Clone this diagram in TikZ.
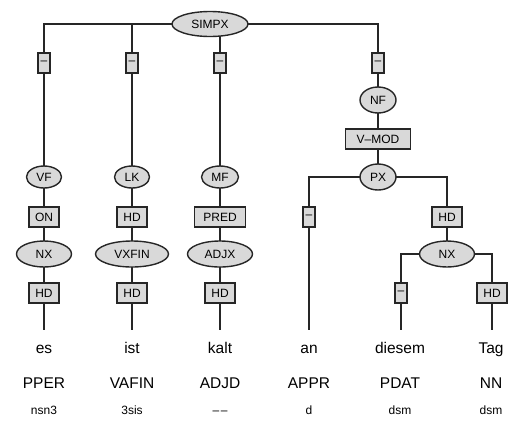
\documentclass[tikz,border=0pt]{standalone}
\usepackage{fontspec}
\setmainfont{Liberation Sans}
\usetikzlibrary{shapes.geometric}
\pgfdeclarelayer{bg}
\pgfsetlayers{bg,main}
\definecolor{linec}{HTML}{262626}
\definecolor{fillc}{HTML}{D9D9D9}
\begin{document}
\begin{tikzpicture}[x=1pt,y=-1pt,
  cat/.style={ellipse, draw=linec, fill=fillc, line width=1.4pt, inner sep=0pt,
    minimum height=25pt, font=\fontsize{12}{12}\selectfont},
  fn/.style={rectangle, draw=linec, fill=fillc, line width=1.4pt, inner sep=0pt,
    minimum height=20pt, minimum width=30pt, font=\fontsize{12}{12}\selectfont},
  dash box/.style={fn, minimum width=12pt},
  conn/.style={draw=linec, line width=1.4pt},
  word/.style={anchor=base, inner sep=0pt, font=\fontsize{15.5}{15.5}\selectfont},
  tagw/.style={anchor=base, inner sep=0pt, font=\fontsize{15.5}{15.5}\selectfont},
  morph/.style={anchor=base, inner sep=0pt, font=\fontsize{12}{12}\selectfont}]
\useasboundingbox (0,0) rectangle (511,421);
% categories
\node[cat, minimum width=76pt] (simpx) at (210,24) {SIMPX};
\node[cat, minimum width=36pt, minimum height=26pt] (nf) at (378,100) {NF};
\node[cat, minimum width=35pt, minimum height=22pt] (vf) at (44,177) {VF};
\node[cat, minimum width=35pt, minimum height=22pt] (lk) at (132,177) {LK};
\node[cat, minimum width=37pt, minimum height=22pt] (mf) at (220,177) {MF};
\node[cat, minimum width=36pt, minimum height=26pt] (px) at (378,177) {PX};
\node[cat, minimum width=55pt, minimum height=26pt] (nxa) at (44,254) {NX};
\node[cat, minimum width=73pt, minimum height=26pt] (vxfin) at (132,254) {VXFIN};
\node[cat, minimum width=65pt, minimum height=26pt] (adjx) at (220,254) {ADJX};
\node[cat, minimum width=55pt, minimum height=26pt] (nxb) at (447,254) {NX};
% function boxes
\node[dash box] (da) at (44,63) {–};
\node[dash box] (db) at (132,63) {–};
\node[dash box] (dc) at (220,63) {–};
\node[dash box] (dd) at (378,63) {–};
\node[fn, minimum width=65pt] (vmod) at (378,139) {V–MOD};
\node[fn] (on) at (44,217) {ON};
\node[fn] (hda) at (132,217) {HD};
\node[fn, minimum width=51pt] (pred) at (220,217) {PRED};
\node[dash box] (de) at (309,217) {–};
\node[fn] (hdb) at (447,217) {HD};
\node[fn] (hdc) at (44,293) {HD};
\node[fn] (hdd) at (132,293) {HD};
\node[fn] (hde) at (220,293) {HD};
\node[dash box] (df) at (401,293) {–};
\node[fn] (hdf) at (492,293) {HD};
% line ends
\coordinate (ea) at (44,330);
\coordinate (eb) at (132,330);
\coordinate (ec) at (220,330);
\coordinate (ed) at (309,330);
\coordinate (ee) at (401,330);
\coordinate (ef) at (492,330);
% words
\node[word] (w1) at (44,353) {es};
\node[word] (w2) at (132,353) {ist};
\node[word] (w3) at (220,353) {kalt};
\node[word] (w4) at (309,353) {an};
\node[word] (w5) at (400,353) {diesem};
\node[word] (w6) at (491,353) {Tag};
\node[tagw] (t1) at (44,388) {PPER};
\node[tagw] (t2) at (132,388) {VAFIN};
\node[tagw] (t3) at (220,388) {ADJD};
\node[tagw] (t4) at (309,388) {APPR};
\node[tagw] (t5) at (400,388) {PDAT};
\node[tagw] (t6) at (491,388) {NN};
\node[morph] (m1) at (44,414) {nsn3};
\node[morph] (m2) at (132,414) {3sis};
\node[morph] (m3) at (220,414) {–\kern1.5pt–};
\node[morph] (m4) at (309,414) {d};
\node[morph] (m5) at (400,414) {dsm};
\node[morph] (m6) at (491,414) {dsm};
% connectors
\begin{pgfonlayer}{bg}
\draw[conn] (simpx.center) -| (da.center);
\draw[conn] (simpx.center) -| (db.center);
\draw[conn] (simpx.center -| dc.center) -- (dc.center);
\draw[conn] (simpx.center) -| (dd.center);
\draw[conn] (da.center) -- (vf.center) -- (on.center) -- (nxa.center) -- (hdc.center) -- (ea);
\draw[conn] (db.center) -- (lk.center) -- (hda.center) -- (vxfin.center) -- (hdd.center) -- (eb);
\draw[conn] (dc.center) -- (mf.center) -- (pred.center) -- (adjx.center) -- (hde.center) -- (ec);
\draw[conn] (dd.center) -- (nf.center) -- (vmod.center) -- (px.center);
\draw[conn] (px.center) -| (de.center);
\draw[conn] (px.center) -| (hdb.center);
\draw[conn] (de.center) -- (ed);
\draw[conn] (hdb.center) -- (nxb.center);
\draw[conn] (nxb.center) -| (df.center);
\draw[conn] (nxb.center) -| (hdf.center);
\draw[conn] (df.center) -- (ee);
\draw[conn] (hdf.center) -- (ef);
\end{pgfonlayer}
\end{tikzpicture}
\end{document}
